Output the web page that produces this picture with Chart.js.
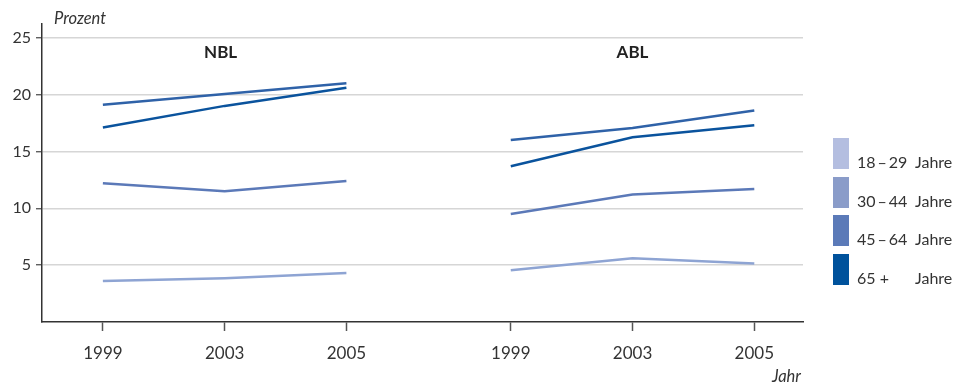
<!DOCTYPE html>
<html>
<head>
<meta charset="utf-8">
<script src="https://cdn.jsdelivr.net/npm/chart.js@4"></script>
<style>
  html, body { margin: 0; padding: 0; background: #fff; }
  #wrap { position: relative; width: 955px; height: 386px; }
  #legend { position: absolute; left: 833px; top: 138px; font-family: Lato, "Open Sans", sans-serif; font-size: 16px; color: #333; }
  .item { position: relative; height: 38.7px; }
  .sw { position: absolute; left: 0; top: 0; width: 16px; height: 31px; }
  .lab { position: absolute; left: 24px; top: 14px; white-space: nowrap; }
  .age { display: inline-block; width: 58px; }
</style>
</head>
<body>
<div id="wrap">
  <canvas id="c" width="955" height="386"></canvas>
  <div id="legend"></div>
</div>
<script>
// Survey years and regions
const years = ['1999', '2003', '2005'];
const regions = ['NBL', 'ABL'];
const ageGroups = ['18\u2009–\u200929', '30\u2009–\u200944', '45\u2009–\u200964', '65 +'];

// Share in percent, per region and age group (1999, 2003, 2005)
const nbl_18_29  = [3.6, 3.85, 4.3];
const nbl_30_44  = [12.2, 11.5, 12.4];
const nbl_45_64  = [19.1, 20.05, 21.0];
const nbl_65plus = [17.1, 19.0, 20.6];

const abl_18_29  = [4.55, 5.6, 5.15];
const abl_30_44  = [9.5, 11.2, 11.7];
const abl_45_64  = [16.0, 17.05, 18.6];
const abl_65plus = [13.7, 16.25, 17.3];

const yTicks = [5, 10, 15, 20, 25];

// Styling
const lineColors   = ['#8ea4d3', '#5b79b8', '#2f62a8', '#0a539d'];
const legendColors = ['#b4bee0', '#8a9cc9', '#5b7ab8', '#00529c'];
const GROUP_STRIDE = 3.35;   // horizontal distance between the two region blocks
const FONT = 'Lato, "Open Sans", sans-serif';

const seriesByRegion = [
  [nbl_18_29, nbl_30_44, nbl_45_64, nbl_65plus],
  [abl_18_29, abl_30_44, abl_45_64, abl_65plus]
];

const xPos = (g, i) => g * GROUP_STRIDE + i;
const tickPositions = [];
regions.forEach((r, g) => years.forEach((y, i) => tickPositions.push(xPos(g, i))));

const datasets = [];
seriesByRegion.forEach((series, g) => {
  series.forEach((vals, a) => {
    datasets.push({
      label: regions[g] + ' ' + ageGroups[a],
      data: vals.map((v, i) => ({ x: xPos(g, i), y: v })),
      borderColor: lineColors[a],
      borderWidth: 2.5,
      pointRadius: 0,
      tension: 0,
      fill: false
    });
  });
});

// Region titles and axis captions
const annotations = {
  id: 'annotations',
  afterDraw(chart) {
    const { ctx, chartArea, scales } = chart;
    ctx.save();
    ctx.fillStyle = '#222';
    ctx.textAlign = 'center';
    ctx.textBaseline = 'middle';
    ctx.font = 'bold 17px ' + FONT;
    regions.forEach((r, g) => {
      ctx.fillText(r, scales.x.getPixelForValue(xPos(g, 1)) - (g === 0 ? 4 : 0), chartArea.top + 29);
    });
    ctx.fillStyle = '#333';
    ctx.font = 'italic 16.5px ' + FONT;
    ctx.textAlign = 'left';
    ctx.fillText('Prozent', 54, 19);
    ctx.textAlign = 'right';
    ctx.fillText('Jahr', 801, 377);
    ctx.restore();
  }
};

new Chart(document.getElementById('c'), {
  type: 'line',
  data: { datasets },
  options: {
    responsive: false,
    animation: false,
    layout: { padding: { top: 24, right: 152, left: 0, bottom: 0 } },
    plugins: { legend: { display: false }, tooltip: { enabled: false } },
    scales: {
      x: {
        type: 'linear',
        min: -0.5,
        max: 5.75,
        afterBuildTicks(scale) { scale.ticks = tickPositions.map(v => ({ value: v })); },
        afterFit(scale) { scale.height = 64; },
        ticks: {
          autoSkip: false,
          maxRotation: 0,
          padding: 12,
          color: '#333',
          font: { family: FONT, size: 17 },
          callback: (v, i) => years[i % years.length]
        },
        grid: { drawOnChartArea: false, drawTicks: true, tickLength: 9, tickColor: '#555', tickWidth: 1.5 },
        border: { display: true, color: '#333', width: 1.5 }
      },
      y: {
        min: 0,
        max: 26.2,
        afterBuildTicks(scale) { scale.ticks = yTicks.map(v => ({ value: v })); },
        afterFit(scale) { scale.width = 42; },
        ticks: {
          padding: 5,
          color: '#333',
          font: { family: FONT, size: 16 },
          callback: v => String(v)
        },
        grid: { color: '#d6d6d6', lineWidth: 1.5, tickLength: 6, tickColor: '#444', tickWidth: 1.2 },
        border: { display: true, color: '#333', width: 1.5 }
      }
    }
  },
  plugins: [annotations]
});

// Legend
const legend = document.getElementById('legend');
ageGroups.forEach((a, i) => {
  const item = document.createElement('div');
  item.className = 'item';
  item.innerHTML = '<div class="sw" style="background:' + legendColors[i] + '"></div>' +
    '<div class="lab"><span class="age">' + a + '</span>Jahre</div>';
  legend.appendChild(item);
});
</script>
</body>
</html>
